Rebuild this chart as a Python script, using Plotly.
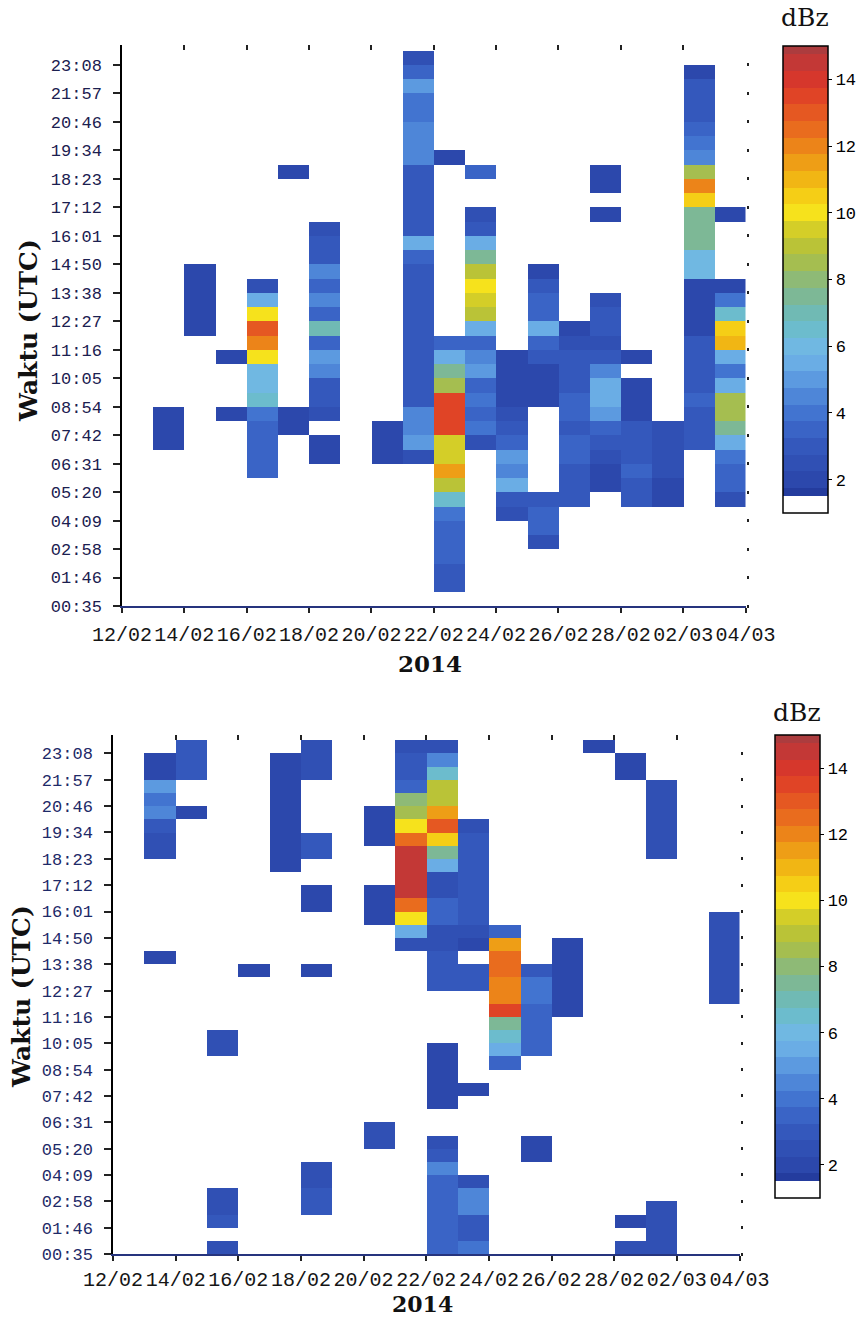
import plotly.graph_objects as go

# ---------------- categories / labels ----------------
date_ticks = [0, 2, 4, 6, 8, 10, 12, 14, 16, 18, 20]
date_labels = ["12/02", "14/02", "16/02", "18/02", "20/02", "22/02",
               "24/02", "26/02", "28/02", "02/03", "04/03"]
time_ticks = list(range(0, 40, 2))
time_labels = ["00:35", "01:46", "02:58", "04:09", "05:20", "06:31", "07:42",
               "08:54", "10:05", "11:16", "12:27", "13:38", "14:50", "16:01",
               "17:12", "18:23", "19:34", "20:46", "21:57", "23:08"]
N_DAYS = 20      # day columns 12/02 .. 03/03
N_BINS = 40      # half-tick time bins
cbar_ticks = [2, 4, 6, 8, 10, 12, 14]

# ---------------- top panel: (first time bin, dBz values upward) per day column ----------------
top_col_01 = [(11, [2.0, 2.2, 2.0])]
top_col_02 = [(19, [2.2, 2.2, 2.0, 2.2, 2.0])]
top_col_03 = [(13, [2.0]), (17, [2.0])]
top_col_04 = [(9, [3.5, 3.5, 3.5, 3.5, 4.0, 6.5, 6.0, 6.0, 10.0, 12.0, 13.0, 10.0, 5.5, 2.5])]
top_col_05 = [(12, [2.0, 2.0]), (30, [2.0])]
top_col_06 = [(10, [2.0, 2.0]),
              (13, [2.5, 3.0, 3.0, 4.5, 5.0, 3.5, 7.0, 3.5, 4.5, 3.5, 4.5, 3.0, 3.0, 2.5])]
top_col_08 = [(10, [1.8, 1.8, 1.8])]
top_col_09 = [(10, [2.5, 5.0, 4.5, 4.5, 3.0, 3.0, 3.0, 3.0, 3.0, 3.0, 3.0, 3.0, 3.0, 3.0,
                    3.5, 5.5, 3.0, 3.0, 3.0, 3.0, 3.0, 4.5, 4.5, 4.5, 4.0, 4.0, 5.0, 3.5, 2.5])]
top_col_10 = [(1, [3.0, 3.0, 3.5, 3.5, 3.5, 4.0, 6.5, 9.0, 11.5, 9.5, 9.5, 13.5, 13.5, 13.5,
                   8.5, 7.5, 5.5, 3.5]),
              (31, [2.0])]
top_col_11 = [(11, [2.5, 4.0, 3.5, 4.0, 3.5, 5.0, 4.5, 3.5, 5.5, 9.0, 9.5, 10.0, 9.0, 7.5,
                    5.5, 3.0, 2.5]),
              (30, [3.5])]
top_col_12 = [(6, [2.5, 3.0, 5.5, 4.5, 5.0, 3.5, 3.0, 2.5, 2.0, 2.0, 2.0, 2.0])]
top_col_13 = [(4, [2.5, 3.5, 3.5, 3.0]),
              (10, [1.5, 1.5, 1.5, 1.5, 2.0, 2.0, 2.0, 3.0, 3.5, 5.5, 3.5, 3.5, 3.0, 2.0])]
top_col_14 = [(7, [3.0, 3.2, 3.2, 3.4, 3.4, 3.0, 3.4, 3.4, 3.2, 3.2, 3.2, 2.5, 2.0, 1.5])]
top_col_15 = [(8, [2.0, 2.0, 2.5, 3.0, 3.5, 5.0, 5.5, 5.5, 4.5, 3.0, 2.5, 3.0, 3.0, 2.5]),
              (27, [2.0]), (29, [2.0, 2.0])]
top_col_16 = [(7, [3.0, 3.0, 3.5, 3.0, 3.0, 3.0, 2.0, 2.0, 2.0]), (17, [2.0]),
              (20, [1.5, 1.5, 1.5])]
top_col_17 = [(7, [2.0, 2.0, 2.5, 2.5, 2.5, 2.5, 1.5, 1.5, 1.5])]
top_col_18 = [(11, [3.0, 3.0, 3.0, 3.5, 3.0, 3.0, 3.0, 3.0, 2.0, 2.0, 2.0, 2.0, 6.0, 6.0,
                    7.5, 7.5, 7.5, 10.5, 12.0, 8.5, 4.5, 4.0, 3.5, 3.0, 3.0, 3.0, 2.0])]
top_col_19 = [(7, [2.5, 3.5, 3.5, 4.0, 5.5, 7.5, 8.5, 8.5, 5.5, 4.0, 5.5, 11.0, 10.5, 6.5,
                   4.0, 2.0]),
              (27, [2.0])]

# ---------------- bottom panel ----------------
bot_col_01 = [(22, [2.0]), (30, [2.5, 2.5, 3.0, 4.5, 4.0, 5.0, 2.2, 2.0])]
bot_col_02 = [(33, [2.0]), (36, [3.0, 3.0, 3.0])]
bot_col_03 = [(0, [2.5]), (2, [3.0, 2.5, 2.5]), (15, [2.5, 2.5])]
bot_col_04 = [(21, [2.0])]
bot_col_05 = [(29, [2.2, 2.2, 2.2, 2.2, 2.2, 2.2, 2.2, 2.2, 2.2])]
bot_col_06 = [(3, [3.0, 2.8, 2.5, 2.5]), (21, [2.0]), (26, [2.0, 2.0]), (30, [3.0, 3.0]),
              (36, [2.5, 2.5, 2.5])]
bot_col_08 = [(8, [2.5, 2.5]), (25, [2.0, 2.0, 2.0]), (31, [2.2, 2.2, 2.2])]
bot_col_09 = [(23, [2.5, 5.5, 10.0, 12.5, 14.5, 14.5, 14.5, 14.5, 12.5, 10.0, 8.5, 8.0,
                    3.5, 3.0, 3.0, 2.5])]
bot_col_10 = [(0, [3.5, 3.5, 3.5, 3.5, 3.5, 3.5, 4.5, 3.0, 2.5]),
              (11, [2.0, 2.0, 2.0, 2.0, 2.0]),
              (20, [3.0, 3.0, 3.0, 2.5, 2.5, 3.5, 3.5, 2.5, 2.5, 5.5, 7.5, 10.5, 13.0, 11.5,
                    9.0, 9.0, 6.5, 4.5, 2.5])]
bot_col_11 = [(0, [4.0, 3.0, 3.0, 4.5, 4.5, 2.5]), (12, [2.0]), (20, [3.0, 3.0]),
              (23, [2.0, 2.5, 3.0, 3.0, 3.0, 3.0, 3.0, 3.0, 3.0, 2.5])]
bot_col_12 = [(14, [3.5, 5.5, 6.5, 7.5, 13.5, 12.0, 12.0, 12.5, 12.5, 11.5, 3.5])]
bot_col_13 = [(7, [2.0, 2.0]), (15, [3.5, 3.5, 3.5, 3.5, 4.0, 4.0, 3.0])]
bot_col_14 = [(18, [2.0, 2.0, 2.0, 2.0, 2.0, 2.0])]
bot_col_15 = [(38, [2.0])]
bot_col_16 = [(0, [2.5]), (2, [2.0]), (36, [2.0, 2.0])]
bot_col_17 = [(0, [2.5, 2.5, 2.5, 2.5]), (30, [2.5, 2.5, 2.5, 2.5, 2.5, 2.5])]
bot_col_19 = [(19, [2.5, 2.5, 2.5, 2.5, 2.5, 2.5, 2.5])]

TOP = {1: top_col_01, 2: top_col_02, 3: top_col_03, 4: top_col_04, 5: top_col_05,
       6: top_col_06, 8: top_col_08, 9: top_col_09, 10: top_col_10, 11: top_col_11,
       12: top_col_12, 13: top_col_13, 14: top_col_14, 15: top_col_15, 16: top_col_16,
       17: top_col_17, 18: top_col_18, 19: top_col_19}
BOT = {1: bot_col_01, 2: bot_col_02, 3: bot_col_03, 4: bot_col_04, 5: bot_col_05,
       6: bot_col_06, 8: bot_col_08, 9: bot_col_09, 10: bot_col_10, 11: bot_col_11,
       12: bot_col_12, 13: bot_col_13, 14: bot_col_14, 15: bot_col_15, 16: bot_col_16,
       17: bot_col_17, 19: bot_col_19}


def build(columns):
    z = [[None] * N_DAYS for _ in range(N_BINS)]
    for col, segs in columns.items():
        for start, vals in segs:
            for j, v in enumerate(vals):
                z[start + j][col] = v
    return z


# ---------------- banded colour scale (band centres 1.5 .. 15 dBz) ----------------
band_rgb = [(36, 60, 158), (44, 72, 172), (48, 80, 180), (52, 88, 188), (58, 100, 198),
            (66, 116, 208), (78, 134, 216), (92, 154, 224), (106, 173, 229), (112, 184, 226),
            (108, 188, 205), (112, 186, 180), (125, 184, 150), (142, 186, 118), (165, 190, 80),
            (186, 195, 55), (212, 206, 40), (246, 226, 28), (245, 206, 22), (241, 182, 20),
            (238, 158, 22), (236, 132, 25), (233, 108, 30), (229, 88, 34), (224, 68, 38),
            (214, 55, 44), (195, 56, 54), (172, 60, 62)]
ZMIN, ZMAX = 1.0, 15.0


def frac(v):
    return (v - ZMIN) / (ZMAX - ZMIN)


colorscale = [[0.0, "white"], [frac(1.5), "white"]]
n = len(band_rgb)
for i, rgb in enumerate(band_rgb):
    c = "rgb(%d,%d,%d)" % rgb
    lo = 1.5 if i == 0 else 1.25 + 0.5 * i
    hi = 15.0 if i == n - 1 else 1.75 + 0.5 * i
    colorscale.append([frac(lo) + (1e-6 if i == 0 else 0), c])
    colorscale.append([frac(hi), c])

W, H = 857, 1317


def px_x(p):
    return p / W


def px_y(p):
    return 1 - p / H


mono = "Liberation Mono"
serif = "DejaVu Serif"

fig = go.Figure()


def add_panel(z, xa, ya, cb_left, cb_top, cb_bottom):
    fig.add_trace(go.Heatmap(
        z=z, x0=0.5, dx=1, y0=0.5, dy=1, xaxis=xa, yaxis=ya,
        colorscale=colorscale, zmin=ZMIN, zmax=ZMAX, hoverongaps=False,
        colorbar=dict(
            x=px_x(cb_left), xanchor="left", y=px_y(cb_top), yanchor="top",
            len=(cb_bottom - cb_top) / H, lenmode="fraction",
            thickness=45, thicknessmode="pixels", xpad=0, ypad=0,
            outlinecolor="black", outlinewidth=1.5,
            tickvals=cbar_ticks, ticks="outside", ticklen=4, tickcolor="black",
            tickfont=dict(family=mono, size=17, color="black"),
        ),
    ))


add_panel(build(TOP), "x", "y", 783, 46, 513)
add_panel(build(BOT), "x2", "y2", 775, 735, 1198)

# dummy traces for the decorative top / right tick axes
for xa, ya in (("x3", "y3"), ("x4", "y4")):
    fig.add_trace(go.Scatter(x=[], y=[], xaxis=xa, yaxis=ya, showlegend=False,
                             hoverinfo="skip"))

xcommon = dict(range=[0, N_DAYS], tickmode="array", tickvals=date_ticks,
               ticktext=date_labels, showgrid=False, zeroline=False, tickangle=0,
               showline=True, linecolor="#26347e", linewidth=1.5,
               ticks="outside", ticklen=5, tickwidth=1.5, tickcolor="#222",
               tickfont=dict(family=mono, size=20, color="#151515"),
               fixedrange=True)
ycommon = dict(range=[0, 39.4], tickmode="array", tickvals=time_ticks,
               ticktext=time_labels, showgrid=False, zeroline=False,
               showline=True, linecolor="black", linewidth=1.5,
               ticks="outside", ticklen=7, tickwidth=1.5, tickcolor="#222",
               ticklabelstandoff=8, fixedrange=True)
topx = dict(range=[0, N_DAYS], tickmode="array", tickvals=date_ticks, side="top",
            ticks="inside", ticklen=5, tickwidth=1.5, tickcolor="#222",
            showticklabels=False, showline=False, showgrid=False, zeroline=False)
righty = dict(range=[0, 39.4], tickmode="array", tickvals=time_ticks, side="right",
              ticks="outside", ticklen=2, tickwidth=2.5, tickcolor="#222",
              showticklabels=False, showline=False, showgrid=False, zeroline=False)

fig.update_layout(
    width=W, height=H, margin=dict(l=0, r=0, t=0, b=0, autoexpand=False),
    paper_bgcolor="white", plot_bgcolor="white", showlegend=False,
    xaxis=dict(xcommon, domain=[px_x(122), px_x(745.5)], anchor="y", ticklabelstandoff=4),
    yaxis=dict(ycommon, domain=[px_y(606), px_y(45)], anchor="x",
               tickfont=dict(family=mono, size=17, color="#1b2050")),
    xaxis2=dict(xcommon, domain=[px_x(113), px_x(739.5)], anchor="y2", ticklabelstandoff=1),
    yaxis2=dict(ycommon, domain=[px_y(1254), px_y(735)], anchor="x2",
                tickfont=dict(family=mono, size=17, color="#1e2a68")),
    xaxis3=dict(topx, overlaying="x", anchor="y"),
    yaxis3=dict(righty, overlaying="y", anchor="x"),
    xaxis4=dict(topx, overlaying="x2", anchor="y2"),
    yaxis4=dict(righty, overlaying="y2", anchor="x2"),
)

ann = [
    dict(text="<b>2014</b>", x=px_x(430), y=px_y(663),
         font=dict(family=serif, size=23, color="#111")),
    dict(text="<b>2014</b>", x=px_x(422), y=px_y(1304),
         font=dict(family=serif, size=22, color="#111")),
    dict(text="<b>Waktu (UTC)</b>", x=px_x(28), y=px_y(331), textangle=-90,
         font=dict(family=serif, size=25, color="#111")),
    dict(text="<b>Waktu (UTC)</b>", x=px_x(22), y=px_y(997), textangle=-90,
         font=dict(family=serif, size=25, color="#111")),
    dict(text="dBz", x=px_x(805), y=px_y(18), font=dict(family=serif, size=25, color="#111")),
    dict(text="dBz", x=px_x(797), y=px_y(712), font=dict(family=serif, size=25, color="#111")),
]
for a in ann:
    fig.add_annotation(xref="paper", yref="paper", showarrow=False,
                       xanchor="center", yanchor="middle", borderpad=0, **a)

fig.write_html("out.html")
